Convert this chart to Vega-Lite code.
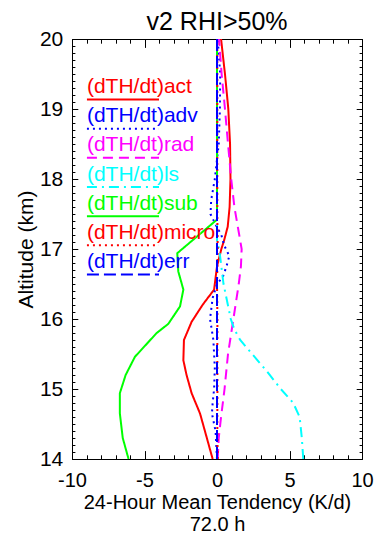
{
  "$schema": "https://vega.github.io/schema/vega-lite/v6.json",
  "width": 290,
  "height": 420,
  "autosize": {"type": "none"},
  "padding": {"left": 72, "top": 39, "right": 16, "bottom": 76},
  "background": "white",
  "title": {"text": "v2 RHI>50%", "fontSize": 25, "font": "Liberation Sans", "fontWeight": "normal", "color": "black", "offset": -7, "frame": "group", "anchor": "middle"},
  "config": {
    "view": {"stroke": "black", "strokeWidth": 1},
    "axis": {"domain": false, "grid": false, "tickColor": "black", "tickWidth": 1, "labelColor": "black", "labelFont": "Liberation Sans", "labelFontSize": 21, "titleFont": "Liberation Sans", "titleFontSize": 21, "titleFontWeight": "normal", "titleColor": "black", "labelOverlap": false, "labelFlush": false, "labelBound": false, "minExtent": 0}
  },
  "datasets": {
    "profiles": [
      {"series": "act", "alt": 20.0, "val": 0.28},
      {"series": "act", "alt": 19.5, "val": 0.55},
      {"series": "act", "alt": 19.0, "val": 0.78},
      {"series": "act", "alt": 18.5, "val": 0.9},
      {"series": "act", "alt": 18.0, "val": 0.93},
      {"series": "act", "alt": 17.6, "val": 0.87},
      {"series": "act", "alt": 17.32, "val": 0.74},
      {"series": "act", "alt": 17.13, "val": 0.5},
      {"series": "act", "alt": 17.0, "val": 0.3},
      {"series": "act", "alt": 16.75, "val": 0.0},
      {"series": "act", "alt": 16.42, "val": -0.2},
      {"series": "act", "alt": 16.2, "val": -1.0},
      {"series": "act", "alt": 15.96, "val": -1.75},
      {"series": "act", "alt": 15.7, "val": -2.28},
      {"series": "act", "alt": 15.41, "val": -2.32},
      {"series": "act", "alt": 15.2, "val": -2.1},
      {"series": "act", "alt": 14.94, "val": -1.75},
      {"series": "act", "alt": 14.65, "val": -1.17},
      {"series": "act", "alt": 14.3, "val": -0.7},
      {"series": "act", "alt": 14.0, "val": -0.3},
      {"series": "adv", "alt": 20.0, "val": 0.05},
      {"series": "adv", "alt": 19.5, "val": 0.22},
      {"series": "adv", "alt": 19.0, "val": 0.2},
      {"series": "adv", "alt": 18.5, "val": 0.12},
      {"series": "adv", "alt": 18.0, "val": -0.15},
      {"series": "adv", "alt": 17.7, "val": -0.4},
      {"series": "adv", "alt": 17.5, "val": -0.45},
      {"series": "adv", "alt": 17.35, "val": -0.1},
      {"series": "adv", "alt": 17.2, "val": 0.3},
      {"series": "adv", "alt": 17.05, "val": 0.5},
      {"series": "adv", "alt": 16.9, "val": 0.85},
      {"series": "adv", "alt": 16.75, "val": 0.65},
      {"series": "adv", "alt": 16.6, "val": 0.4},
      {"series": "adv", "alt": 16.5, "val": 0.0},
      {"series": "adv", "alt": 16.3, "val": -0.3},
      {"series": "adv", "alt": 16.0, "val": -0.48},
      {"series": "adv", "alt": 15.7, "val": -0.25},
      {"series": "adv", "alt": 15.3, "val": -0.15},
      {"series": "adv", "alt": 15.0, "val": -0.2},
      {"series": "adv", "alt": 14.8, "val": -0.3},
      {"series": "adv", "alt": 14.65, "val": -0.35},
      {"series": "adv", "alt": 14.4, "val": -0.1},
      {"series": "adv", "alt": 14.0, "val": 0.0},
      {"series": "rad", "alt": 20.0, "val": 0.14},
      {"series": "rad", "alt": 19.5, "val": 0.32},
      {"series": "rad", "alt": 19.0, "val": 0.55},
      {"series": "rad", "alt": 18.5, "val": 0.76},
      {"series": "rad", "alt": 18.0, "val": 0.98},
      {"series": "rad", "alt": 17.6, "val": 1.2},
      {"series": "rad", "alt": 17.3, "val": 1.45},
      {"series": "rad", "alt": 17.0, "val": 1.7},
      {"series": "rad", "alt": 16.75, "val": 1.65},
      {"series": "rad", "alt": 16.5, "val": 1.5},
      {"series": "rad", "alt": 16.0, "val": 1.13},
      {"series": "rad", "alt": 15.5, "val": 0.76},
      {"series": "rad", "alt": 15.0, "val": 0.52},
      {"series": "rad", "alt": 14.6, "val": 0.28},
      {"series": "rad", "alt": 14.3, "val": 0.12},
      {"series": "rad", "alt": 14.0, "val": 0.05},
      {"series": "ls", "alt": 20.0, "val": 0.0},
      {"series": "ls", "alt": 17.1, "val": 0.0},
      {"series": "ls", "alt": 17.0, "val": 0.15},
      {"series": "ls", "alt": 16.5, "val": 0.45},
      {"series": "ls", "alt": 16.0, "val": 0.95},
      {"series": "ls", "alt": 15.85, "val": 1.2},
      {"series": "ls", "alt": 15.7, "val": 1.6},
      {"series": "ls", "alt": 15.47, "val": 2.55},
      {"series": "ls", "alt": 15.25, "val": 3.45},
      {"series": "ls", "alt": 15.0, "val": 4.4},
      {"series": "ls", "alt": 14.8, "val": 5.26},
      {"series": "ls", "alt": 14.6, "val": 5.7},
      {"series": "ls", "alt": 14.3, "val": 5.85},
      {"series": "ls", "alt": 14.0, "val": 5.95},
      {"series": "sub", "alt": 20.0, "val": 0.0},
      {"series": "sub", "alt": 17.42, "val": 0.0},
      {"series": "sub", "alt": 16.94, "val": -2.74},
      {"series": "sub", "alt": 16.68, "val": -2.67},
      {"series": "sub", "alt": 16.42, "val": -2.32},
      {"series": "sub", "alt": 16.18, "val": -2.55},
      {"series": "sub", "alt": 15.93, "val": -3.36},
      {"series": "sub", "alt": 15.8, "val": -4.16},
      {"series": "sub", "alt": 15.46, "val": -5.66},
      {"series": "sub", "alt": 15.2, "val": -6.3},
      {"series": "sub", "alt": 14.94, "val": -6.7},
      {"series": "sub", "alt": 14.65, "val": -6.7},
      {"series": "sub", "alt": 14.3, "val": -6.5},
      {"series": "sub", "alt": 14.0, "val": -6.1},
      {"series": "micro", "alt": 20.0, "val": 0.02},
      {"series": "micro", "alt": 17.5, "val": 0.02},
      {"series": "micro", "alt": 17.0, "val": 0.05},
      {"series": "micro", "alt": 16.5, "val": 0.0},
      {"series": "micro", "alt": 16.0, "val": 0.03},
      {"series": "micro", "alt": 15.5, "val": 0.02},
      {"series": "micro", "alt": 15.0, "val": 0.03},
      {"series": "micro", "alt": 14.5, "val": 0.02},
      {"series": "micro", "alt": 14.0, "val": 0.05},
      {"series": "err", "alt": 20.0, "val": 0.0},
      {"series": "err", "alt": 17.0, "val": 0.0},
      {"series": "err", "alt": 14.0, "val": 0.0}
    ],
    "legend": [
      {"series": "act", "label": "(dTH/dt)act"},
      {"series": "adv", "label": "(dTH/dt)adv"},
      {"series": "rad", "label": "(dTH/dt)rad"},
      {"series": "ls", "label": "(dTH/dt)ls"},
      {"series": "sub", "label": "(dTH/dt)sub"},
      {"series": "micro", "label": "(dTH/dt)micro"},
      {"series": "err", "label": "(dTH/dt)err"}
    ]
  },
  "resolve": {"scale": {"x": "independent", "y": "independent"}, "axis": {"x": "independent", "y": "independent"}},
  "layer": [
    {
      "data": {"name": "profiles"},
      "transform": [{"filter": "datum.series === 'act' || datum.series === 'adv'"}],
      "mark": {"type": "line", "strokeWidth": 2},
      "encoding": {
        "x": {"field": "val", "type": "quantitative", "scale": {"domain": [-10, 10], "nice": false, "zero": false},
              "axis": {"orient": "bottom", "values": [-10, -5, 0, 5, 10], "labelExpr": "toString(datum.value)", "tickSize": -8.4, "labelPadding": 20, "labelFontSize": 20, "title": ["24-Hour Mean Tendency (K/d)", "72.0 h"], "titleFontSize": 20, "titlePadding": 2, "titleLineHeight": 22}},
        "y": {"field": "alt", "type": "quantitative", "scale": {"domain": [14, 20], "nice": false, "zero": false},
              "axis": {"orient": "left", "values": [14, 15, 16, 17, 18, 19, 20], "tickSize": -5.8, "labelPadding": 15, "title": "Altitude (km)", "titlePadding": 3}},
        "order": {"field": "alt", "type": "quantitative"},
        "color": {"field": "series", "type": "nominal", "legend": null,
                  "scale": {"domain": ["act", "adv", "rad", "ls", "sub", "micro", "err"], "range": ["#ff0000", "#0000ff", "#ff00ff", "#00ffff", "#00ff00", "#ff0000", "#0000ff"]}},
        "strokeDash": {"field": "series", "type": "nominal", "legend": null,
                  "scale": {"domain": ["act", "adv", "rad", "ls", "sub", "micro", "err"], "range": [[1, 0], [2, 4], [10, 6], [10, 5, 2, 5], [1, 0], [2, 4], [12, 5]]}}
      }
    },
    {
      "data": {"name": "profiles"},
      "transform": [{"filter": "datum.series === 'rad' || datum.series === 'ls'"}],
      "mark": {"type": "line", "strokeWidth": 2},
      "encoding": {
        "x": {"field": "val", "type": "quantitative", "scale": {"domain": [-10, 10], "nice": false, "zero": false},
              "axis": {"orient": "top", "values": [-10, -5, 0, 5, 10], "tickSize": -8.4, "labels": false, "title": null, "maxExtent": 0}},
        "y": {"field": "alt", "type": "quantitative", "scale": {"domain": [14, 20], "nice": false, "zero": false},
              "axis": {"orient": "right", "values": [14, 15, 16, 17, 18, 19, 20], "tickSize": -5.8, "labels": false, "title": null, "maxExtent": 0}},
        "order": {"field": "alt", "type": "quantitative"},
        "color": {"field": "series", "type": "nominal", "legend": null},
        "strokeDash": {"field": "series", "type": "nominal", "legend": null}
      }
    },
    {
      "data": {"name": "profiles"},
      "transform": [{"filter": "datum.series === 'sub' || datum.series === 'micro'"}],
      "mark": {"type": "line", "strokeWidth": 2},
      "encoding": {
        "x": {"field": "val", "type": "quantitative", "scale": {"domain": [-10, 10], "nice": false, "zero": false},
              "axis": {"orient": "bottom", "values": [-10, -9, -8, -7, -6, -5, -4, -3, -2, -1, 0, 1, 2, 3, 4, 5, 6, 7, 8, 9, 10], "tickSize": -4.2, "labels": false, "title": null, "maxExtent": 0}},
        "y": {"field": "alt", "type": "quantitative", "scale": {"domain": [14, 20], "nice": false, "zero": false},
              "axis": {"orient": "left", "values": [14, 14.1, 14.2, 14.3, 14.4, 14.5, 14.6, 14.7, 14.8, 14.9, 15, 15.1, 15.2, 15.3, 15.4, 15.5, 15.6, 15.7, 15.8, 15.9, 16, 16.1, 16.2, 16.3, 16.4, 16.5, 16.6, 16.7, 16.8, 16.9, 17, 17.1, 17.2, 17.3, 17.4, 17.5, 17.6, 17.7, 17.8, 17.9, 18, 18.1, 18.2, 18.3, 18.4, 18.5, 18.6, 18.7, 18.8, 18.9, 19, 19.1, 19.2, 19.3, 19.4, 19.5, 19.6, 19.7, 19.8, 19.9, 20], "tickSize": -2.9, "labels": false, "title": null, "maxExtent": 0}},
        "order": {"field": "alt", "type": "quantitative"},
        "color": {"field": "series", "type": "nominal", "legend": null},
        "strokeDash": {"field": "series", "type": "nominal", "legend": null}
      }
    },
    {
      "data": {"name": "profiles"},
      "transform": [{"filter": "datum.series === 'err'"}],
      "mark": {"type": "line", "strokeWidth": 2},
      "encoding": {
        "x": {"field": "val", "type": "quantitative", "scale": {"domain": [-10, 10], "nice": false, "zero": false},
              "axis": {"orient": "top", "values": [-10, -9, -8, -7, -6, -5, -4, -3, -2, -1, 0, 1, 2, 3, 4, 5, 6, 7, 8, 9, 10], "tickSize": -4.2, "labels": false, "title": null, "maxExtent": 0}},
        "y": {"field": "alt", "type": "quantitative", "scale": {"domain": [14, 20], "nice": false, "zero": false},
              "axis": {"orient": "right", "values": [14, 14.1, 14.2, 14.3, 14.4, 14.5, 14.6, 14.7, 14.8, 14.9, 15, 15.1, 15.2, 15.3, 15.4, 15.5, 15.6, 15.7, 15.8, 15.9, 16, 16.1, 16.2, 16.3, 16.4, 16.5, 16.6, 16.7, 16.8, 16.9, 17, 17.1, 17.2, 17.3, 17.4, 17.5, 17.6, 17.7, 17.8, 17.9, 18, 18.1, 18.2, 18.3, 18.4, 18.5, 18.6, 18.7, 18.8, 18.9, 19, 19.1, 19.2, 19.3, 19.4, 19.5, 19.6, 19.7, 19.8, 19.9, 20], "tickSize": -2.9, "labels": false, "title": null, "maxExtent": 0}},
        "order": {"field": "alt", "type": "quantitative"},
        "color": {"field": "series", "type": "nominal", "legend": null},
        "strokeDash": {"field": "series", "type": "nominal", "legend": null}
      }
    },
    {
      "data": {"name": "legend"},
      "mark": {"type": "text", "align": "left", "baseline": "middle", "fontSize": 21, "font": "Liberation Sans"},
      "encoding": {
        "x": {"datum": -8.97, "type": "quantitative", "scale": {"domain": [-10, 10], "nice": false, "zero": false}, "axis": null},
        "y": {"field": "series", "type": "nominal", "sort": ["act", "adv", "rad", "ls", "sub", "micro", "err"], "scale": {"type": "point", "domain": ["act", "adv", "rad", "ls", "sub", "micro", "err"], "range": [48, 223], "padding": 0}, "axis": null},
        "text": {"field": "label", "type": "nominal"},
        "color": {"field": "series", "type": "nominal", "legend": null}
      }
    },
    {
      "data": {"name": "legend"},
      "mark": {"type": "rule", "strokeWidth": 2, "yOffset": 12.5},
      "encoding": {
        "x": {"datum": -8.97, "type": "quantitative", "scale": {"domain": [-10, 10], "nice": false, "zero": false}, "axis": null},
        "x2": {"datum": -4.0},
        "y": {"field": "series", "type": "nominal", "sort": ["act", "adv", "rad", "ls", "sub", "micro", "err"], "scale": {"type": "point", "domain": ["act", "adv", "rad", "ls", "sub", "micro", "err"], "range": [48, 223], "padding": 0}, "axis": null},
        "color": {"field": "series", "type": "nominal", "legend": null},
        "strokeDash": {"field": "series", "type": "nominal", "legend": null}
      }
    }
  ]
}
